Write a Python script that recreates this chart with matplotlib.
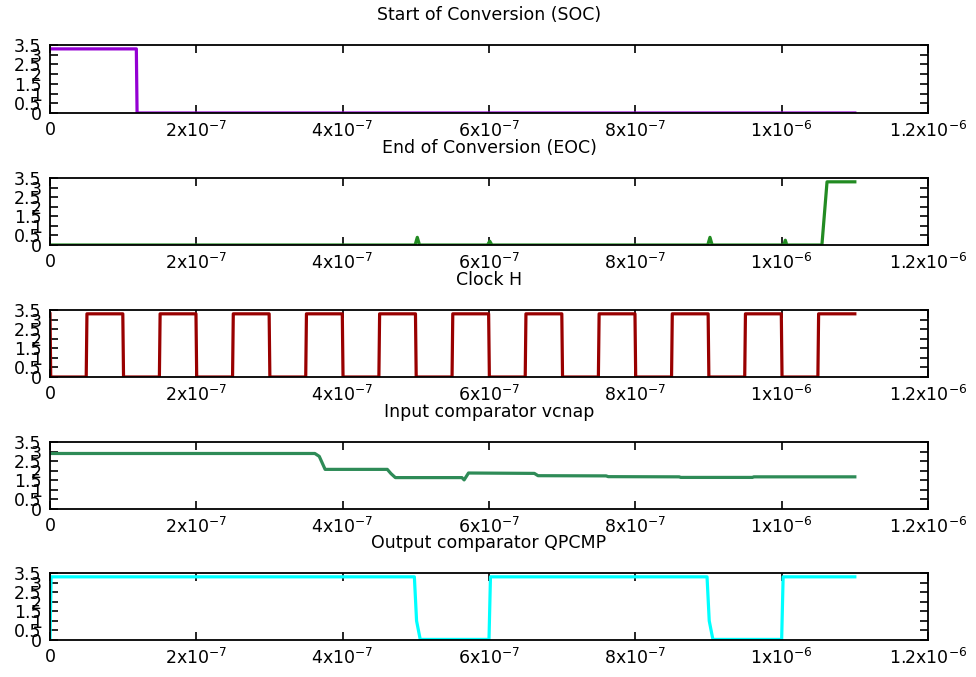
import matplotlib
matplotlib.use("Agg")
import matplotlib.pyplot as plt
from matplotlib.ticker import FixedLocator

# time in seconds, values in volts
soc_t = [0, 1.18e-7, 1.19e-7, 1.1e-6]
soc_v = [3.3, 3.3, 0.0, 0.0]

eoc_t = [0, 4.99e-7, 5.02e-7, 5.05e-7, 5.98e-7, 6.01e-7, 6.04e-7,
         8.99e-7, 9.02e-7, 9.05e-7, 1.003e-6, 1.005e-6, 1.007e-6,
         1.055e-6, 1.062e-6, 1.1e-6]
eoc_v = [0.0, 0.0, 0.4, 0.0, 0.0, 0.2, 0.0,
         0.0, 0.4, 0.0, 0.0, 0.25, 0.0,
         0.0, 3.3, 3.3]

clk_rise = [0.5e-7, 1.5e-7, 2.5e-7, 3.5e-7, 4.5e-7, 5.5e-7,
            6.5e-7, 7.5e-7, 8.5e-7, 9.5e-7, 1.05e-6]
clk_fall = [1e-7, 2e-7, 3e-7, 4e-7, 5e-7, 6e-7,
            7e-7, 8e-7, 9e-7, 1e-6]
clk_high = 3.3

vcnap_t = [0, 3.62e-7, 3.68e-7, 3.76e-7, 4.61e-7, 4.66e-7, 4.72e-7,
           5.63e-7, 5.66e-7, 5.69e-7, 5.72e-7, 6.62e-7, 6.67e-7,
           7.6e-7, 7.63e-7, 8.6e-7, 8.62e-7, 9.6e-7, 9.62e-7, 1.1e-6]
vcnap_v = [2.9, 2.9, 2.75, 2.07, 2.07, 1.85, 1.64,
           1.64, 1.52, 1.7, 1.88, 1.86, 1.74,
           1.73, 1.69, 1.68, 1.65, 1.65, 1.68, 1.68]

qp_t = [0, 1.5e-9, 4.98e-7, 5.01e-7, 5.06e-7, 6.0e-7, 6.02e-7,
        8.98e-7, 9.01e-7, 9.06e-7, 1.0e-6, 1.002e-6, 1.1e-6]
qp_v = [0.0, 3.3, 3.3, 1.0, 0.03, 0.03, 3.3,
        3.3, 1.0, 0.03, 0.03, 3.3, 3.3]

titles = ["Start of Conversion (SOC)", "End of Conversion (EOC)", "Clock H",
          "Input comparator vcnap", "Output comparator QPCMP"]
colors = ["#9400d3", "#228b22", "#990000", "#2e8b57", "#00ffff"]

xticks = [0, 2e-7, 4e-7, 6e-7, 8e-7, 1e-6, 1.2e-6]
xlabels = ["0", r"$\mathregular{2x10^{-7}}$", r"$\mathregular{4x10^{-7}}$",
           r"$\mathregular{6x10^{-7}}$", r"$\mathregular{8x10^{-7}}$",
           r"$\mathregular{1x10^{-6}}$", r"$\mathregular{1.2x10^{-6}}$"]
yticks = [0, 0.5, 1, 1.5, 2, 2.5, 3, 3.5]
ylabels = ["0", "0.5", "1", "1.5", "2", "2.5", "3", "3.5"]

# build clock square wave from edge times
clk_t = [0, 1e-9]
clk_v = [clk_high, 0.0]
edges = sorted([(r, 1) for r in clk_rise] + [(f, 0) for f in clk_fall])
for e, up in edges:
    lo, hi = (0.0, clk_high) if up else (clk_high, 0.0)
    clk_t += [e - 5e-10, e + 5e-10]
    clk_v += [lo, hi]
clk_t.append(1.1e-6)
clk_v.append(clk_high)

series = [(soc_t, soc_v), (eoc_t, eoc_v), (clk_t, clk_v),
          (vcnap_t, vcnap_v), (qp_t, qp_v)]

W, H = 976, 677
plt.rcParams['font.family'] = ['DejaVu Sans']
fig = plt.figure(figsize=(W / 100, H / 100), dpi=100)

# panel top / bottom in pixels
rows = [(45, 113), (178, 245), (310, 377), (442, 509), (573, 640)]
left, right = 50, 928

for (top, bot), title, (t, v), c in zip(rows, titles, series, colors):
    ax = fig.add_axes([left / W, 1 - bot / H, (right - left) / W, (bot - top) / H])
    ax.plot(t, v, color=c, lw=2.3, zorder=2)
    ax.set_xlim(0, 1.2e-6)
    ax.set_ylim(0, 3.5)
    ax.xaxis.set_major_locator(FixedLocator(xticks))
    ax.set_xticklabels(xlabels)
    ax.yaxis.set_major_locator(FixedLocator(yticks))
    ax.set_yticklabels(ylabels)
    ax.tick_params(direction="in", length=6, width=1.2, top=True, right=True,
                   labelsize=12.5, pad=6)
    for s in ax.spines.values():
        s.set_linewidth(1.3)
        s.set_zorder(3)
    ax.set_title(title, fontsize=12.5, pad=18)

fig.savefig("out.png", dpi=100)
